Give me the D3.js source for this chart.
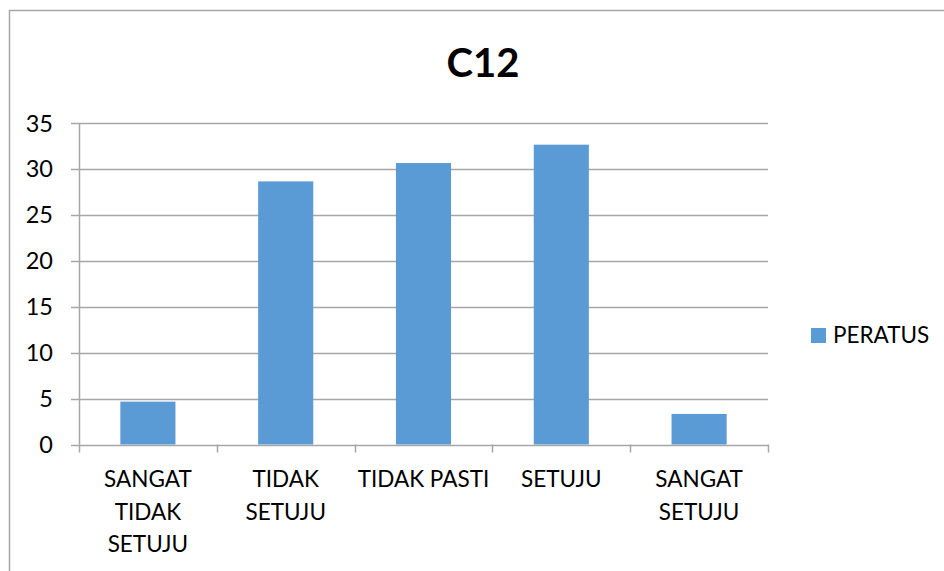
<!DOCTYPE html>
<html><head><meta charset="utf-8">
<script src="https://cdn.jsdelivr.net/npm/d3@7/dist/d3.min.js"></script>
<style>body{margin:0;background:#fff}svg{display:block}text{font-family:Lato,"Open Sans",sans-serif}</style>
</head><body>
<svg id="c" width="944" height="571"></svg>
<script>
const title = "C12";
const categories = [["SANGAT","TIDAK","SETUJU"],["TIDAK","SETUJU"],["TIDAK PASTI"],["SETUJU"],["SANGAT","SETUJU"]];
const values = [4.67, 28.67, 30.67, 32.67, 3.33];
const yTicks = [0,5,10,15,20,25,30,35];
const seriesName = "PERATUS";
const color = "#5B9BD5";
const grid = "#A6A6A6";
const fs = 22.5;

const svg = d3.select("#c");
svg.append("rect").attr("x",9.5).attr("y",10.5).attr("width",1000).attr("height",1000)
  .attr("fill","none").attr("stroke",grid).attr("stroke-width",1.5);

const L=79, R=768, T=123.3, B=444.5;
const x = d3.scaleBand().domain(d3.range(values.length)).range([L,R]).paddingInner(0.6).paddingOuter(0.3);
const xb = d3.scaleBand().domain(d3.range(values.length)).range([L,R]);
const y = d3.scaleLinear().domain([0,35]).range([B,T]);

// gridlines
svg.append("g").selectAll("line").data(yTicks).join("line")
  .attr("x1",L-8).attr("x2",R).attr("y1",d=>Math.round(y(d))+0.5).attr("y2",d=>Math.round(y(d))+0.5)
  .attr("stroke",grid).attr("stroke-width",1.5);
// y axis line
svg.append("line").attr("x1",L+0.5).attr("x2",L+0.5).attr("y1",T).attr("y2",B).attr("stroke",grid).attr("stroke-width",1.5);
// y labels
svg.append("g").selectAll("text").data(yTicks).join("text")
  .attr("x",L-26).attr("y",d=>y(d)).attr("dy","0.35em").attr("text-anchor","end")
  .attr("font-size",fs+1).attr("fill","#000").text(d=>d);
// x ticks
const xt = d3.range(values.length+1).map(i=> i<values.length ? xb(i) : R);
svg.append("g").selectAll("line").data(xt).join("line")
  .attr("x1",d=>Math.round(d)+0.5).attr("x2",d=>Math.round(d)+0.5).attr("y1",B).attr("y2",B+8)
  .attr("stroke",grid).attr("stroke-width",1.5);
// bars
svg.append("g").selectAll("rect").data(values).join("rect")
  .attr("x",(d,i)=>x(i)).attr("width",x.bandwidth())
  .attr("y",d=>y(d)).attr("height",d=>B-y(d)).attr("fill",color);
// x labels
const xl = svg.append("g").selectAll("text").data(categories).join("text")
  .attr("x",(d,i)=>xb(i)+xb.bandwidth()/2).attr("y",487).attr("text-anchor","middle")
  .attr("font-size",fs).attr("fill","#000");
xl.selectAll("tspan").data(d=>d).join("tspan")
  .attr("x",function(){return this.parentNode.getAttribute("x");})
  .attr("dy",(d,i)=>i?32.5:0).text(d=>d);
// title
svg.append("text").attr("x",483).attr("y",77).attr("text-anchor","middle")
  .attr("font-size",40).attr("font-weight","bold").attr("fill","#000").text(title);
// legend
svg.append("rect").attr("x",811).attr("y",328).attr("width",15).attr("height",15).attr("fill",color);
svg.append("text").attr("x",833).attr("y",343).attr("font-size",fs).attr("fill","#000").text(seriesName);
</script>
</body></html>
